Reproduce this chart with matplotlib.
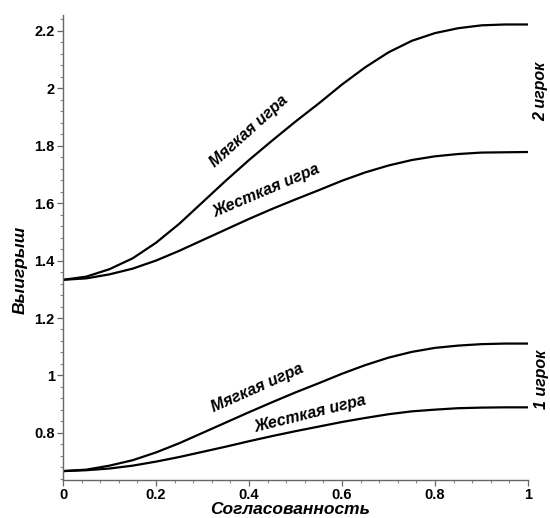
import matplotlib
matplotlib.use("Agg")
import matplotlib.pyplot as plt
from matplotlib.ticker import MultipleLocator, AutoMinorLocator, FuncFormatter

# Согласованность (x) and payoffs
x = [0.0, 0.05, 0.1, 0.15, 0.2, 0.25, 0.3, 0.35, 0.4, 0.45, 0.5,
     0.55, 0.6, 0.65, 0.7, 0.75, 0.8, 0.85, 0.9, 0.95, 1.0]
soft_2 = [1.333, 1.344, 1.370, 1.408, 1.462, 1.528, 1.603, 1.678, 1.750, 1.818, 1.884,
          1.947, 2.013, 2.073, 2.125, 2.165, 2.192, 2.209, 2.219, 2.222, 2.222]
hard_2 = [1.333, 1.338, 1.352, 1.372, 1.400, 1.434, 1.471, 1.508, 1.545, 1.580, 1.613,
          1.645, 1.678, 1.707, 1.731, 1.750, 1.763, 1.771, 1.776, 1.777, 1.778]
soft_1 = [0.667, 0.672, 0.686, 0.705, 0.732, 0.764, 0.800, 0.836, 0.872, 0.907, 0.941,
          0.973, 1.006, 1.036, 1.062, 1.082, 1.096, 1.104, 1.109, 1.111, 1.111]
hard_1 = [0.667, 0.670, 0.676, 0.686, 0.700, 0.716, 0.734, 0.752, 0.771, 0.789, 0.806,
          0.822, 0.838, 0.852, 0.865, 0.875, 0.881, 0.886, 0.888, 0.889, 0.889]

FONT = "Liberation Sans"

fig = plt.figure(figsize=(5.5, 5.18), dpi=100)
ax = fig.add_axes([63 / 550, 1 - 480 / 518, 465 / 550, 465 / 518])

for ys in (soft_2, hard_2, soft_1, hard_1):
    ax.plot(x, ys, color="black", lw=1.6, solid_capstyle="butt")

ax.set_xlim(0, 1)
ax.set_ylim(0.636, 2.255)

for side in ("top", "right"):
    ax.spines[side].set_visible(False)
for side in ("left", "bottom"):
    ax.spines[side].set_color("#666666")
    ax.spines[side].set_linewidth(1.0)

ax.xaxis.set_major_locator(MultipleLocator(0.2))
ax.yaxis.set_major_locator(MultipleLocator(0.2))
ax.xaxis.set_minor_locator(AutoMinorLocator(5))
ax.yaxis.set_minor_locator(AutoMinorLocator(5))
fmt = FuncFormatter(lambda v, p: f"{v:.1f}".rstrip("0").rstrip(".") if v else "0")
ax.xaxis.set_major_formatter(fmt)
ax.yaxis.set_major_formatter(fmt)
ax.tick_params(which="major", length=4, width=0.9, color="#666666", pad=2)
ax.tick_params(which="minor", length=2, width=0.8, color="#888888")
for lab in ax.get_xticklabels() + ax.get_yticklabels():
    lab.set_fontfamily(FONT)
    lab.set_fontweight("bold")
    lab.set_fontsize(10.5)

txt = dict(fontfamily=FONT, fontweight="bold", fontstyle="italic", fontsize=11.5,
           ha="center", va="center", rotation_mode="anchor")
ax.text(0.400, 1.850, "Мягкая игра", rotation=42, **txt)
ax.text(0.437, 1.645, "Жесткая игра", rotation=23, **txt)
ax.text(0.417, 0.955, "Мягкая игра", rotation=24, **txt)
ax.text(0.533, 0.868, "Жесткая игра", rotation=14, **txt)

ax.text(1.028, 1.99, "2 игрок", rotation=90, **txt)
ax.text(1.028, 0.985, "1 игрок", rotation=90, **txt)

fig.text(290 / 550, 1 - 509 / 518, "Согласованность", fontfamily=FONT, fontweight="bold",
         fontstyle="italic", fontsize=12.5, ha="center", va="center")
fig.text(20 / 550, 1 - 270 / 518, "Выигрыш", fontfamily=FONT, fontweight="bold",
         fontstyle="italic", fontsize=12.5, ha="center", va="center", rotation=90)

fig.savefig("out.png", dpi=100, facecolor="white")
